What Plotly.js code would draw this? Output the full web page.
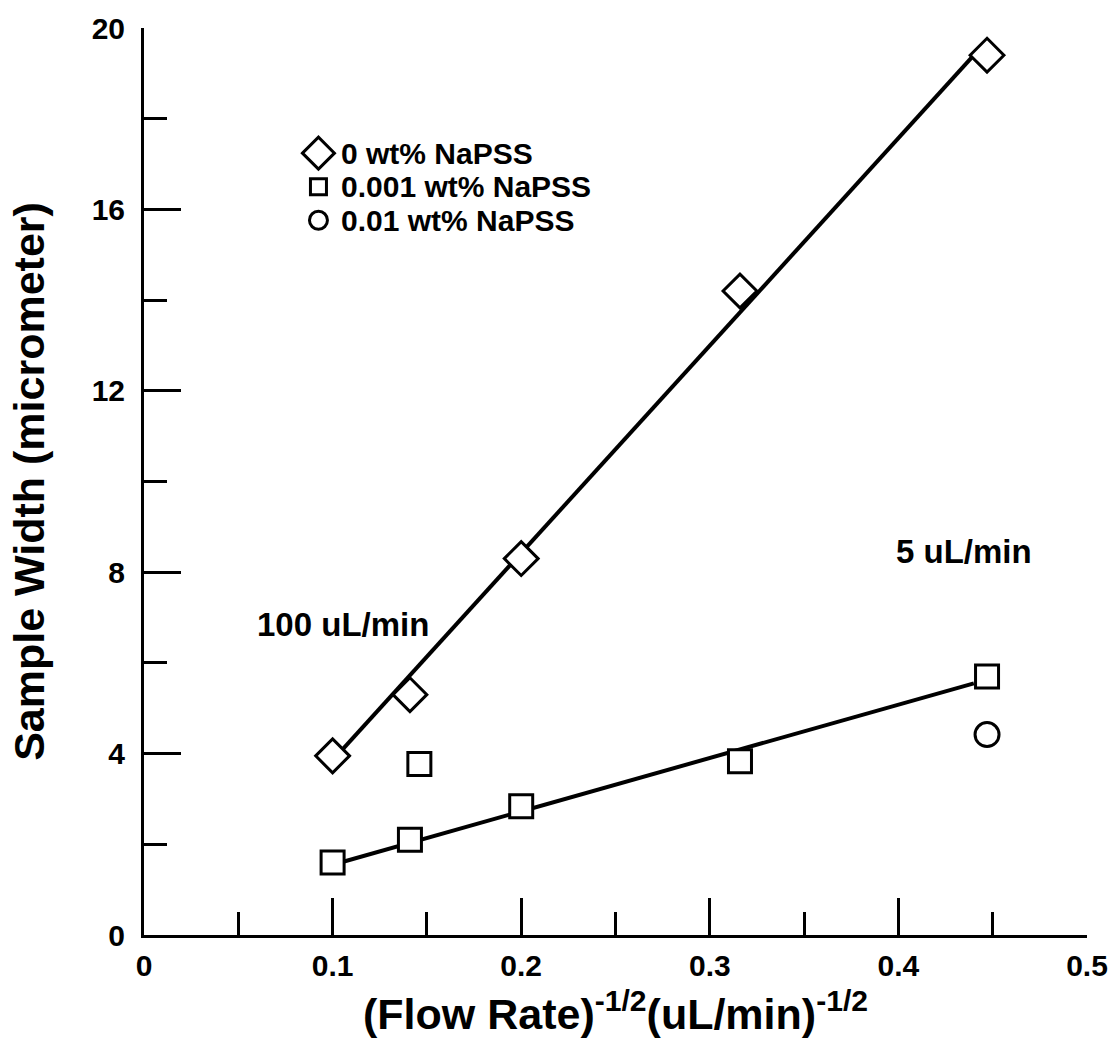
<!DOCTYPE html>
<html>
<head>
<meta charset="utf-8">
<script src="https://cdn.plot.ly/plotly-3.0.1.min.js"></script>
<style>
  html, body { margin: 0; padding: 0; background: #ffffff; }
  #chart { width: 1114px; height: 1043px; }
</style>
</head>
<body>
<div id="chart"></div>
<script>
// ---- data ----
const flowX = [0.1, 0.141, 0.2, 0.316, 0.447];          // (flow rate)^-1/2
const width0 = [3.95, 5.3, 8.3, 14.2, 19.4];             // 0 wt% NaPSS
const width001X = [0.1, 0.141, 0.2, 0.316, 0.447, 0.146];
const width001 = [1.6, 2.1, 2.84, 3.83, 5.7, 3.77];      // 0.001 wt% NaPSS
const width01X = [0.447];
const width01 = [4.42];                                  // 0.01 wt% NaPSS
const fit0X = [0.1, 0.44];
const fit0Y = [3.85, 19.4];
const fit001X = [0.1, 0.44];
const fit001Y = [1.55, 5.55];
const seriesNames = ['0 wt% NaPSS', '0.001 wt% NaPSS', '0.01 wt% NaPSS'];
const xTicks = [0, 0.1, 0.2, 0.3, 0.4, 0.5];
const yTicks = [0, 4, 8, 12, 16, 20];
const noteLabels = ['100 uL/min', '5 uL/min'];
const noteX = [0.1055, 0.435];
const noteY = [6.85, 8.45];

const FONT = 'Liberation Sans, Arial, Helvetica, sans-serif';
const markerLine = {color: '#000', width: 3};

const traces = [
  {x: fit0X, y: fit0Y, mode: 'lines', line: {color: '#000', width: 4}, showlegend: false, hoverinfo: 'skip'},
  {x: fit001X, y: fit001Y, mode: 'lines', line: {color: '#000', width: 4}, showlegend: false, hoverinfo: 'skip'},
  {x: flowX, y: width0, mode: 'markers', name: seriesNames[0],
   marker: {symbol: 'diamond', size: 26, color: '#fff', line: markerLine}},
  {x: width001X, y: width001, mode: 'markers', name: seriesNames[1],
   marker: {symbol: 'square', size: 23, color: '#fff', line: markerLine}},
  {x: width01X, y: width01, mode: 'markers', name: seriesNames[2],
   marker: {symbol: 'circle', size: 24, color: '#fff', line: markerLine}}
];

// manual legend (key shapes + text), positioned in paper fractions
const legX = 0.185, legTextX = 0.208;
const legY = [0.862, 0.825, 0.788];
const shapes = [
  {type: 'path', xref: 'paper', yref: 'paper', xsizemode: 'pixel', ysizemode: 'pixel',
   xanchor: legX, yanchor: legY[0], path: 'M -16 0 L 0 16 L 16 0 L 0 -16 Z',
   line: {color: '#000', width: 3}, fillcolor: '#fff'},
  {type: 'rect', xref: 'paper', yref: 'paper', xsizemode: 'pixel', ysizemode: 'pixel',
   xanchor: legX, yanchor: legY[1], x0: -8, x1: 8, y0: -8, y1: 8,
   line: {color: '#000', width: 3}, fillcolor: '#fff'},
  {type: 'circle', xref: 'paper', yref: 'paper', xsizemode: 'pixel', ysizemode: 'pixel',
   xanchor: legX, yanchor: legY[2], x0: -9, x1: 9, y0: -9, y1: 9,
   line: {color: '#000', width: 3}, fillcolor: '#fff'}
];

const annotations = [];
seriesNames.forEach((t, i) => annotations.push({
  text: t, xref: 'paper', yref: 'paper', x: legTextX, y: legY[i],
  xanchor: 'left', yanchor: 'middle', showarrow: false, borderpad: 0,
  font: {family: FONT, size: 30, color: '#000', weight: 'bold'}
}));
noteLabels.forEach((t, i) => annotations.push({
  text: t, xref: 'x', yref: 'y', x: noteX[i], y: noteY[i],
  xanchor: 'center', yanchor: 'middle', showarrow: false,
  font: {family: FONT, size: 33, color: '#000', weight: 'bold'}
}));

const layout = {
  width: 1114, height: 1043,
  margin: {l: 144, r: 27, t: 28, b: 108, pad: 0},
  paper_bgcolor: '#fff', plot_bgcolor: '#fff',
  showlegend: false,
  font: {family: FONT, color: '#000'},
  xaxis: {
    range: [0, 0.5], tickvals: xTicks, ticktext: xTicks.map(v => v === 0 ? '0' : v.toFixed(1)),
    ticks: 'inside', ticklen: 37, tickwidth: 3, tickcolor: '#000',
    minor: {dtick: 0.05, tick0: 0, ticks: 'inside', ticklen: 23, tickwidth: 3, tickcolor: '#000', showgrid: false},
    showline: true, linewidth: 3, linecolor: '#000', mirror: false,
    showgrid: false, zeroline: false, ticklabelstandoff: 2,
    tickfont: {family: FONT, size: 30, color: '#000', weight: 'bold'},
    title: {text: '(Flow Rate)<sup>-1/2</sup>(uL/min)<sup>-1/2</sup>', standoff: 18,
            font: {family: FONT, size: 43, color: '#000', weight: 'bold'}},
    automargin: false, fixedrange: true
  },
  yaxis: {
    range: [0, 20], tickvals: yTicks, ticktext: yTicks.map(String),
    ticks: 'inside', ticklen: 37, tickwidth: 3, tickcolor: '#000',
    minor: {dtick: 2, tick0: 0, ticks: 'inside', ticklen: 23, tickwidth: 3, tickcolor: '#000', showgrid: false},
    showline: true, linewidth: 3, linecolor: '#000', mirror: false,
    showgrid: false, zeroline: false, ticklabelstandoff: 10,
    tickfont: {family: FONT, size: 30, color: '#000', weight: 'bold'},
    title: {text: 'Sample Width (micrometer)', standoff: 34,
            font: {family: FONT, size: 43, color: '#000', weight: 'bold'}},
    automargin: false, fixedrange: true
  },
  shapes: shapes,
  annotations: annotations
};

Plotly.newPlot('chart', traces, layout, {displayModeBar: false, staticPlot: true});
</script>
</body>
</html>
